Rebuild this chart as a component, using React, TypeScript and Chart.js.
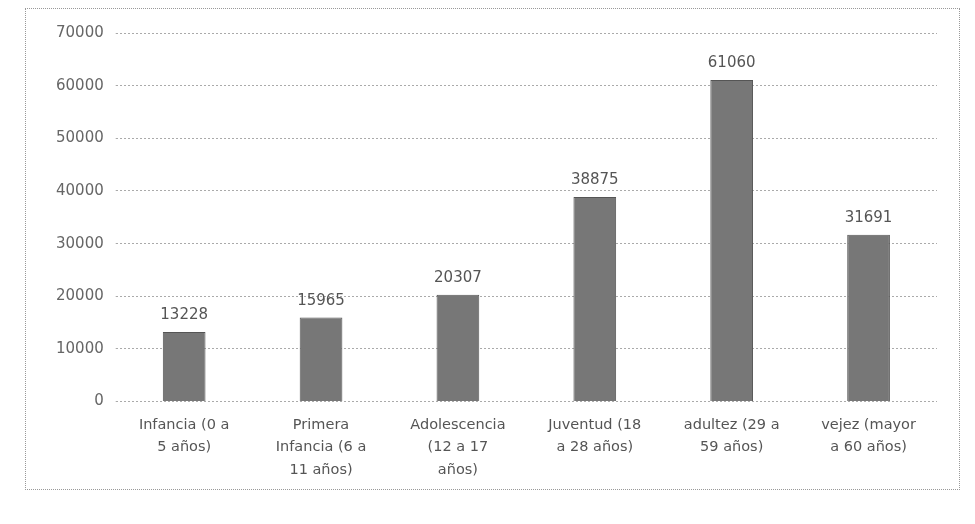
import React, { useEffect, useRef } from "react";
import { Chart, registerables } from "chart.js";

Chart.register(...registerables);

const categories: string[][] = [
  ["Infancia (0 a", "5 años)"],
  ["Primera", "Infancia (6 a", "11 años)"],
  ["Adolescencia", "(12 a 17", "años)"],
  ["Juventud (18", "a 28 años)"],
  ["adultez (29 a", "59 años)"],
  ["vejez (mayor", "a 60 años)"],
];
const values: number[] = [13228, 15965, 20307, 38875, 61060, 31691];
const yMin = 0;
const yMax = 70000;
const yStep = 10000;

const FONT = "'DejaVu Sans', Verdana, sans-serif";

const valueLabels = {
  id: "valueLabels",
  afterDatasetsDraw(chart: any) {
    const ctx = chart.ctx;
    const meta = chart.getDatasetMeta(0);
    ctx.save();
    ctx.font = `15px ${FONT}`;
    ctx.fillStyle = "#555";
    ctx.textAlign = "center";
    ctx.textBaseline = "bottom";
    meta.data.forEach((bar: any, i: number) => {
      ctx.fillText(String(values[i]), bar.x, bar.y - 9);
    });
    ctx.restore();
  },
};

export default function App() {
  const ref = useRef<HTMLCanvasElement>(null);
  useEffect(() => {
    if (!ref.current) return;
    const chart = new Chart(ref.current, {
      type: "bar",
      data: {
        labels: categories,
        datasets: [
          {
            data: values,
            backgroundColor: "#777777",
            borderColor: "#555555",
            borderWidth: 1,
            barPercentage: 0.6,
            categoryPercentage: 0.52,
          },
        ],
      },
      options: {
        animation: false,
        responsive: false,
        layout: { padding: { left: 18, right: 22, top: 24, bottom: 4 } },
        plugins: { legend: { display: false }, tooltip: { enabled: false } },
        scales: {
          x: {
            grid: { display: false },
            border: { display: false },
            ticks: {
              color: "#555",
              font: { family: FONT, size: 14.5, lineHeight: 1.55 },
              maxRotation: 0,
              autoSkip: false,
              padding: 4,
            },
          },
          y: {
            min: yMin,
            max: yMax,
            ticks: {
              stepSize: yStep,
              color: "#666",
              font: { family: FONT, size: 15 },
              padding: 12,
              callback: (v: any) => String(v),
            },
            grid: { color: "#aaa", lineWidth: 1, tickLength: 0 },
            border: { display: false, dash: [2, 2] },
          },
        },
      },
      plugins: [valueLabels],
    });
    return () => chart.destroy();
  }, []);
  return (
    <div
      style={{
        marginLeft: 17,
        width: 935,
        height: 482,
        border: "1px dotted #999",
        boxSizing: "border-box",
      }}
    >
      <canvas ref={ref} width={933} height={480} />
    </div>
  );
}
